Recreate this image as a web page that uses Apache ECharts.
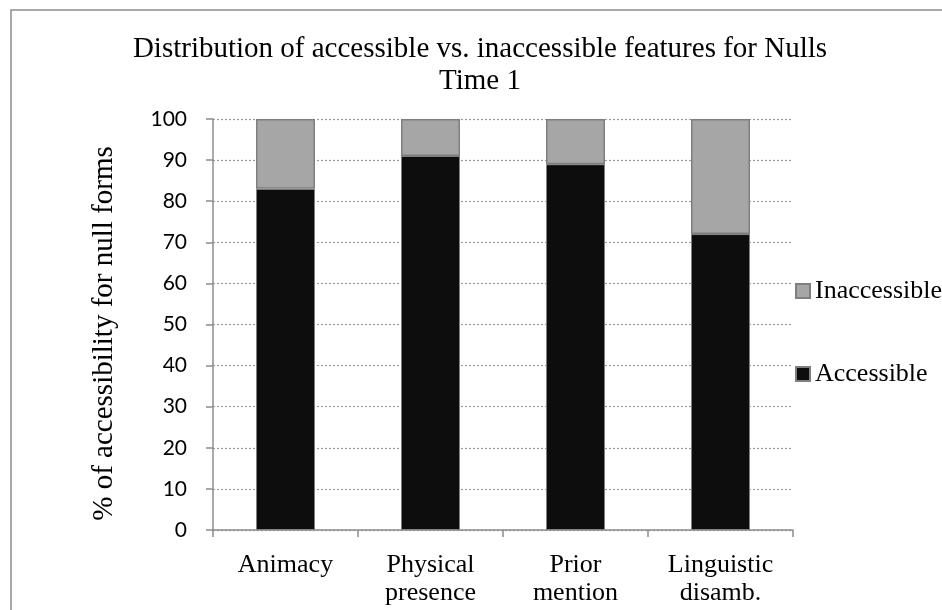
<!DOCTYPE html>
<html>
<head>
<meta charset="utf-8">
<script src="https://cdn.jsdelivr.net/npm/echarts@6/dist/echarts.min.js"></script>
<style>
  html, body { margin: 0; padding: 0; background: #fff; }
  #chart { width: 942px; height: 610px; }
</style>
</head>
<body>
<div id="chart"></div>
<script>
// Feature categories (two-line labels)
const categories = ['Animacy', 'Physical\npresence', 'Prior\nmention', 'Linguistic\ndisamb.'];
// Percent of null forms with accessible / inaccessible features
const accessible = [83, 91, 89, 72];
const inaccessible = [17, 9, 11, 28];
// Y-axis range
const yMin = 0, yMax = 100, yStep = 10;

const serif = '"Liberation Serif", "Times New Roman", serif';
const sans = 'Lato, "Open Sans", sans-serif';

const chart = echarts.init(document.getElementById('chart'), null, { renderer: 'canvas' });

const legendText = { fontFamily: serif, fontSize: 26, color: '#000' };

chart.setOption({
  backgroundColor: '#ffffff',
  animation: false,
  title: {
    text: 'Distribution of accessible vs. inaccessible features for Nulls\nTime 1',
    left: 480,
    textAlign: 'center',
    top: 33,
    padding: 0,
    textStyle: {
      fontFamily: serif,
      fontWeight: 'normal',
      fontSize: 29,
      lineHeight: 32,
      color: '#000'
    }
  },
  graphic: [{
    type: 'rect',
    shape: { x: 11, y: 10, width: 1000, height: 1000 },
    style: { fill: 'none', stroke: '#8c8c8c', lineWidth: 1.5 },
    silent: true,
    z: -1
  }],
  legend: [{
    data: ['Inaccessible'],
    orient: 'vertical',
    left: 795,
    top: 278,
    icon: 'rect',
    itemWidth: 14,
    itemHeight: 14,
    textStyle: legendText,
    padding: 0
  }, {
    data: ['Accessible'],
    orient: 'vertical',
    left: 795,
    top: 361,
    icon: 'rect',
    itemWidth: 14,
    itemHeight: 14,
    textStyle: legendText,
    padding: 0
  }],
  grid: { left: 213, right: 149, top: 119, bottom: 80, containLabel: false },
  xAxis: {
    type: 'category',
    data: categories,
    axisLine: { lineStyle: { color: '#8c8c8c', width: 1.5 } },
    axisTick: { show: true, length: 7, alignWithLabel: false, lineStyle: { color: '#8c8c8c', width: 1.5 } },
    axisLabel: {
      fontFamily: serif,
      fontSize: 26,
      lineHeight: 28,
      color: '#000',
      margin: 21,
      interval: 0
    }
  },
  yAxis: {
    type: 'value',
    min: yMin,
    max: yMax,
    interval: yStep,
    name: '% of accessibility for null forms',
    nameLocation: 'middle',
    nameGap: 94,
    nameRotate: 90,
    nameTextStyle: { fontFamily: serif, fontSize: 29, color: '#000', padding: [0, 18, 0, 0] },
    axisLine: { show: true, lineStyle: { color: '#8c8c8c', width: 1.5 } },
    axisTick: { show: true, length: 7, lineStyle: { color: '#8c8c8c', width: 1.5 } },
    axisLabel: { fontFamily: sans, fontSize: 21, color: '#000', margin: 26 },
    splitLine: { show: true, lineStyle: { color: '#9a9a9a', type: [2, 2], width: 1.2 } }
  },
  series: [{
    name: 'Accessible',
    type: 'bar',
    stack: 'total',
    data: accessible,
    barWidth: 59,
    itemStyle: { color: '#0d0d0d', borderColor: '#7f7f7f', borderWidth: 1 },
    z: 3
  }, {
    name: 'Inaccessible',
    type: 'bar',
    stack: 'total',
    data: inaccessible,
    barWidth: 59,
    itemStyle: { color: '#a6a6a6', borderColor: '#7f7f7f', borderWidth: 1.5 },
    z: 3
  }]
});
</script>
</body>
</html>
